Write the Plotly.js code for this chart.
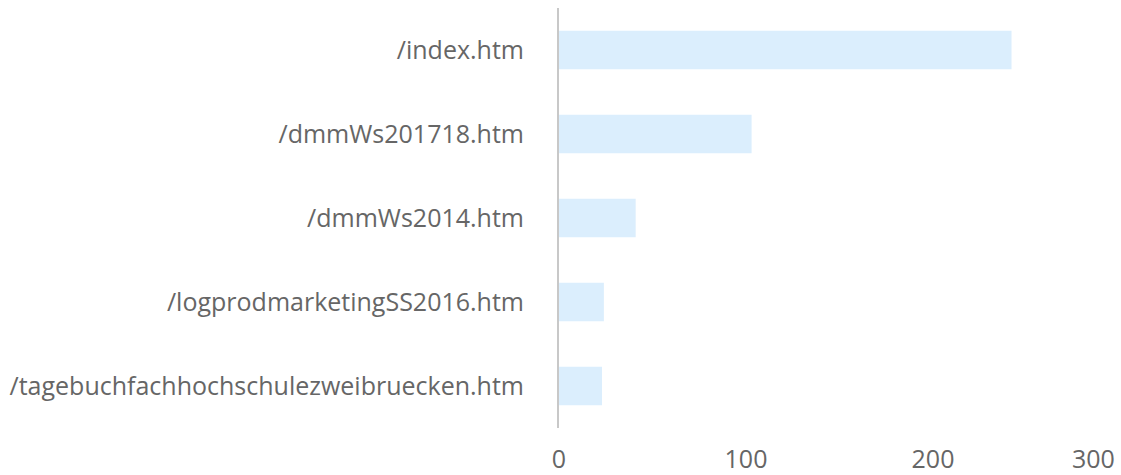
<!DOCTYPE html>
<html>
<head>
<meta charset="utf-8">
<script src="https://cdn.plot.ly/plotly-3.0.1.min.js"></script>
<style>html,body{margin:0;padding:0;background:#fff;}#chart{width:1121px;height:475px;}</style>
</head>
<body>
<div id="chart"></div>
<script>
const pages = ["/index.htm", "/dmmWs201718.htm", "/dmmWs2014.htm", "/logprodmarketingSS2016.htm", "/tagebuchfachhochschulezweibruecken.htm"];
const visits = [242, 103, 41, 24, 23];
const xTicks = [0, 100, 200];
const xLastTick = 300;

const trace = {
  type: "bar",
  orientation: "h",
  y: pages,
  x: visits,
  marker: {color: "#dbeefd", line: {width: 0}},
  hoverinfo: "x+y"
};

const layout = {
  width: 1121,
  height: 475,
  margin: {l: 559, r: 1, t: 8, b: 47},
  paper_bgcolor: "#ffffff",
  plot_bgcolor: "#ffffff",
  font: {family: "Open Sans, sans-serif", size: 25, color: "#666666"},
  bargap: 0.54,
  showlegend: false,
  xaxis: {
    range: [0, xLastTick],
    tickvals: xTicks,
    ticktext: xTicks.map(String),
    showgrid: false,
    zeroline: false,
    showline: false,
    ticks: "",
    ticklabelstandoff: 14,
    tickfont: {size: 25, color: "#666666"},
    fixedrange: true
  },
  yaxis: {
    categoryorder: "array",
    categoryarray: pages.slice().reverse(),
    showgrid: false,
    zeroline: false,
    showline: true,
    linecolor: "#c8c8c8",
    linewidth: 2,
    ticks: "",
    ticklabelstandoff: 28,
    tickfont: {size: 25, color: "#666666"},
    fixedrange: true
  },
  annotations: [{
    x: xLastTick, xref: "x",
    y: 0, yref: "paper",
    yanchor: "top", xanchor: "right",
    yshift: -12, xshift: -4,
    borderpad: 0,
    text: String(xLastTick),
    showarrow: false,
    font: {size: 25, color: "#666666"}
  }]
};

Plotly.newPlot("chart", [trace], layout, {displayModeBar: false, staticPlot: true});
</script>
</body>
</html>
